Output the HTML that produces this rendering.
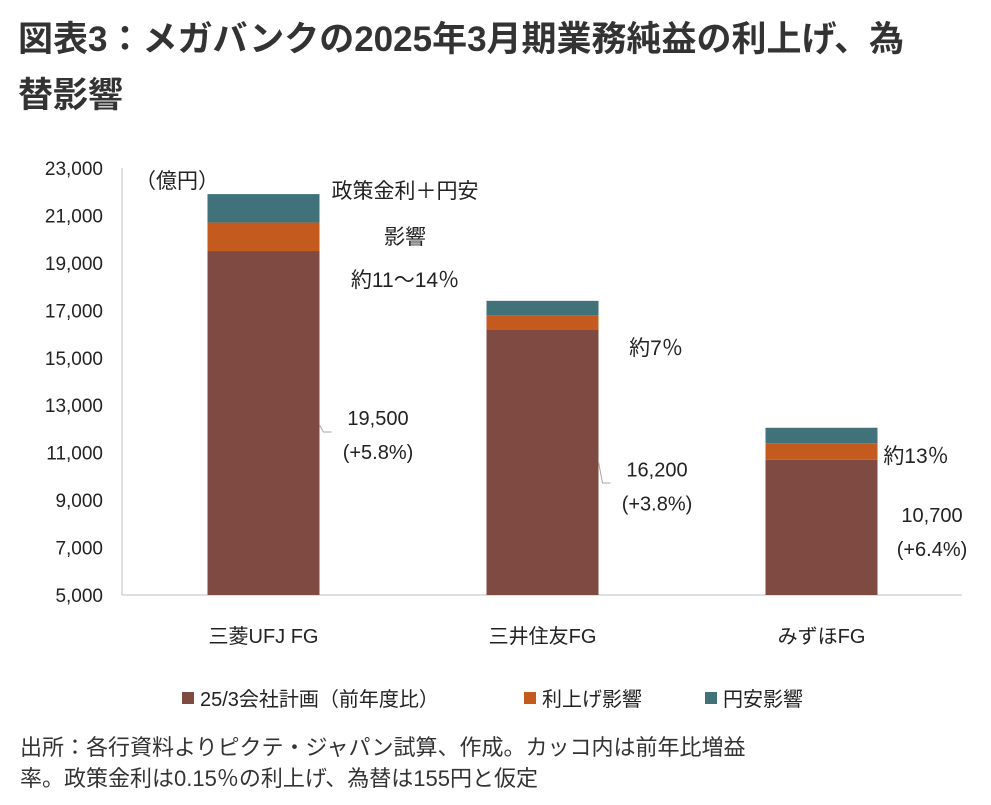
<!DOCTYPE html>
<html><head><meta charset="utf-8">
<style>
body{margin:0;background:#fff;width:991px;height:805px;overflow:hidden;font-family:"Liberation Sans","Noto Sans CJK JP",sans-serif;color:#222}
.title{position:absolute;left:18px;top:12px;font-size:35px;font-weight:bold;line-height:56px;color:#333;letter-spacing:0px}
.foot{position:absolute;left:20px;top:732px;font-size:22px;line-height:31px;color:#333}
svg{position:absolute;left:0;top:0}
svg text{font-family:"Liberation Sans","Noto Sans CJK JP",sans-serif;fill:#222}
</style></head><body>
<div class="title">図表3：メガバンクの2025年3月期業務純益の利上げ、為<br>替影響</div>
<svg id="chart" width="991" height="805"></svg>
<div class="foot">出所：各行資料よりピクテ・ジャパン試算、作成。カッコ内は前年比増益<br>率。政策金利は0.15％の利上げ、為替は155円と仮定</div>
<script>
const categories=["三菱UFJ FG","三井住友FG","みずほFG"];
const baseValues=[19500,16200,10700];
const rateHike=[1200,600,700];
const yenWeak=[1200,600,650];
const baseLabels=["19,500","16,200","10,700"];
const growthLabels=["(+5.8%)","(+3.8%)","(+6.4%)"];
const yTicks=[5000,7000,9000,11000,13000,15000,17000,19000,21000,23000];
const NS="http://www.w3.org/2000/svg";
const svg=document.getElementById('chart');
const y0=595,y1=168,vmin=5000,vmax=23000;
function y(v){return y0-(v-vmin)/(vmax-vmin)*(y0-y1);}
const centers=[263.5,542.5,821.5],bw=112;
function mk(t,a,txt){const e=document.createElementNS(NS,t);for(const k in a)e.setAttribute(k,a[k]);if(txt!==undefined)e.textContent=txt;svg.appendChild(e);return e;}
let ax=mk('line',{x1:122,y1:168,x2:122,y2:595,stroke:'#bfbfbf','stroke-width':1});


let bx=mk('line',{x1:122,y1:595,x2:962,y2:595,stroke:'#bfbfbf','stroke-width':1});


yTicks.forEach(v=>{
 const t=mk('text',{x:103,y:y(v)+7,'text-anchor':'end','font-size':19},v.toLocaleString('en-US'));
 
 
});
const u=mk('text',{x:135,y:188,'font-size':21},'（億円）');


const colors=['#7f4a42','#c55a1e','#41727a'];
categories.forEach((c,i)=>{
 const x=centers[i]-bw/2;
 const v1=baseValues[i],v2=v1+rateHike[i],v3=v2+yenWeak[i];
 const r1=mk('rect',{x:x,y:y(v1),width:bw,height:y(vmin)-y(v1),fill:colors[0]});
 
 
 const r2=mk('rect',{x:x,y:y(v2),width:bw,height:y(v1)-y(v2),fill:colors[1]});
 
 
 const r3=mk('rect',{x:x,y:y(v3),width:bw,height:y(v2)-y(v3),fill:colors[2]});
 
 
 const cl=mk('text',{x:centers[i],y:643,'text-anchor':'middle','font-size':20},c);
 
 
});
const lblPos=[[378,y(baseValues[0])+174],[657,y(baseValues[1])+147],[932,y(baseValues[2])+62]];
const leadY=[[425,432],[462,483],null];
lblPos.forEach((p,i)=>{
 const a=mk('text',{x:p[0],y:p[1],'text-anchor':'middle','font-size':20},baseLabels[i]);
 
 
 const b=mk('text',{x:p[0],y:p[1]+34,'text-anchor':'middle','font-size':20},growthLabels[i]);
 
 
 if(leadY[i]){const xe=centers[i]+bw/2;
  const l=mk('polyline',{points:`${xe},${leadY[i][0]} ${xe+4},${leadY[i][1]} ${xe+12},${leadY[i][1]}`,fill:'none',stroke:'#a6a6a6','stroke-width':1});
  
  }
});
[[405,198,'政策金利＋円安'],[405,244,'影響'],[405,287,'約11～14％'],[656,355,'約7％'],[916,463,'約13％']].forEach(a=>{
 const t=mk('text',{x:a[0],y:a[1],'text-anchor':'middle','font-size':21},a[2]);
 
 
});
[[182,'25/3会社計画（前年度比）'],[524,'利上げ影響'],[705,'円安影響']].forEach((l,i)=>{
 const r=mk('rect',{x:l[0],y:692,width:12,height:12,fill:colors[i]});
 
 
 const t=mk('text',{x:l[0]+18,y:706,'font-size':20},l[1]);
 
 
});
</script>
</body></html>
